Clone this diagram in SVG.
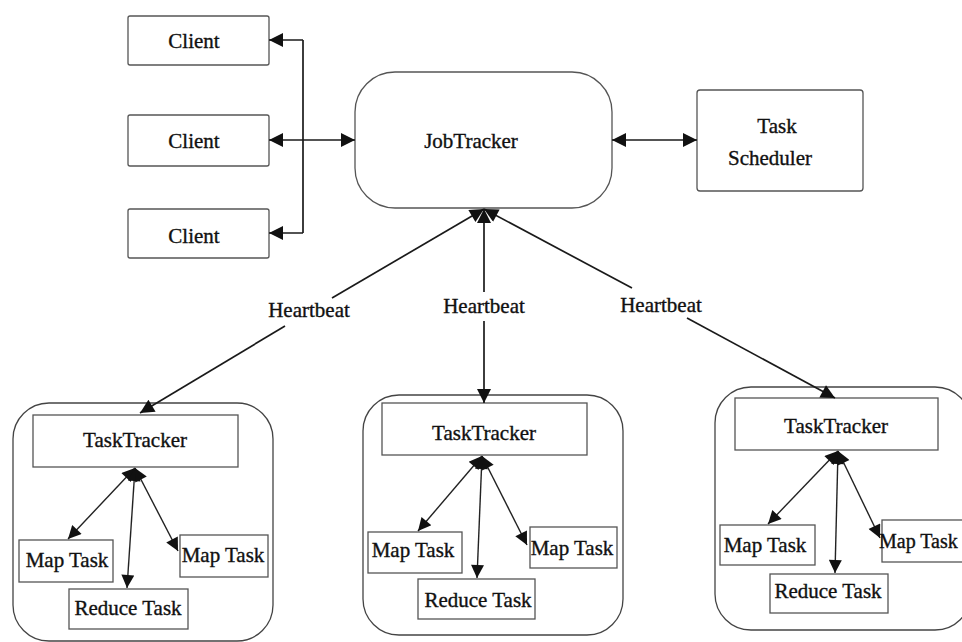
<svg xmlns="http://www.w3.org/2000/svg" width="962" height="642" viewBox="0 0 962 642">
  <style>
    .box { fill: #fff; stroke: #555; stroke-width: 1.3; }
    .cont { fill: #fff; stroke: #444; stroke-width: 1.3; }
    .lbl { font-family: "Liberation Serif", "Times New Roman", serif; font-size: 21px; fill: #111; stroke: #111; stroke-width: 0.35; text-anchor: middle; }
    .wire { fill: none; stroke: #1a1a1a; stroke-width: 1.7; }
    .thin { fill: none; stroke: #222; stroke-width: 1.4; }
  </style>
  <defs>
    <marker id="ah" viewBox="0 0 10 10" refX="10" refY="5" markerUnits="userSpaceOnUse" markerWidth="17" markerHeight="14" orient="auto-start-reverse">
      <path d="M0,0 L10,5 L0,10 z" fill="#111"/>
    </marker>
    <marker id="ahs" viewBox="0 0 10 10" refX="10" refY="5" markerUnits="userSpaceOnUse" markerWidth="16" markerHeight="13" orient="auto-start-reverse">
      <path d="M0,0 L10,5 L0,10 z" fill="#111"/>
    </marker>
  </defs>

  <rect width="962" height="642" fill="#fff"/>

  <!-- top row -->
  <g id="client1"><rect class="box" x="128" y="16" width="141" height="49" rx="2"/><text class="lbl" x="194" y="48">Client</text></g>
  <g id="client2"><rect class="box" x="128" y="115" width="141" height="51" rx="2"/><text class="lbl" x="194" y="148">Client</text></g>
  <g id="client3"><rect class="box" x="128" y="209" width="141" height="49" rx="2"/><text class="lbl" x="194" y="243">Client</text></g>
  <g id="jobtracker"><rect class="box" x="355" y="72" width="257" height="136" rx="40"/><text class="lbl" x="471" y="148">JobTracker</text></g>
  <g id="scheduler"><rect class="box" x="697" y="90" width="166" height="101" rx="3"/><text class="lbl" x="777" y="133">Task</text><text class="lbl" x="770" y="165">Scheduler</text></g>

  <!-- worker 1 -->
  <g id="worker1">
    <rect class="cont" x="13" y="403" width="260" height="238" rx="36"/>
    <rect class="box" x="33" y="415" width="205" height="52"/><text class="lbl" x="135" y="447">TaskTracker</text>
    <rect class="box" x="19" y="540" width="94" height="42"/><text class="lbl" x="67" y="567">Map Task</text>
    <rect class="box" x="180" y="535" width="88" height="42"/><text class="lbl" x="223" y="562">Map Task</text>
    <rect class="box" x="69" y="589" width="119" height="40"/><text class="lbl" x="128" y="615">Reduce Task</text>
  </g>

  <!-- worker 2 -->
  <g id="worker2">
    <rect class="cont" x="363" y="395" width="260" height="240" rx="36"/>
    <rect class="box" x="382" y="403" width="205" height="52"/><text class="lbl" x="484" y="440">TaskTracker</text>
    <rect class="box" x="368" y="532" width="94" height="41"/><text class="lbl" x="413" y="557">Map Task</text>
    <rect class="box" x="530" y="527" width="87" height="41"/><text class="lbl" x="572" y="555">Map Task</text>
    <rect class="box" x="418" y="579" width="117" height="40"/><text class="lbl" x="478" y="607">Reduce Task</text>
  </g>

  <!-- worker 3 (runs off the right edge) -->
  <g id="worker3">
    <rect class="cont" x="715" y="387" width="256" height="243" rx="36"/>
    <rect class="box" x="735" y="398" width="203" height="52"/><text class="lbl" x="836" y="433">TaskTracker</text>
    <rect class="box" x="720" y="525" width="95" height="40"/><text class="lbl" x="765" y="552">Map Task</text>
    <rect class="box" x="882" y="520" width="90" height="42"/><text class="lbl" x="879" y="548" style="text-anchor:start;font-size:20px">Map Task</text>
    <rect class="box" x="770" y="574" width="118" height="39"/><text class="lbl" x="828" y="598">Reduce Task</text>
  </g>

  <!-- connectors -->
  <g id="connectors">
    <path class="wire" d="M303,40 L303,233"/>
    <path class="wire" d="M303,40 L269,40" marker-end="url(#ah)"/>
    <path class="wire" d="M303,233 L269,233" marker-end="url(#ah)"/>
    <path class="wire" d="M269,140 L355,140" marker-start="url(#ah)" marker-end="url(#ah)"/>
    <path class="wire" d="M612,140 L697,140" marker-start="url(#ah)" marker-end="url(#ah)"/>

    <!-- heartbeat links, broken around their labels -->
    <path class="wire" d="M484,209 L332,298" marker-start="url(#ah)"/>
    <path class="wire" d="M285,326 L140,413" marker-end="url(#ah)"/>
    <path class="wire" d="M484,209 L484,292" marker-start="url(#ah)"/>
    <path class="wire" d="M484,321 L484,403" marker-end="url(#ah)"/>
    <path class="wire" d="M484,209 L632,288" marker-start="url(#ah)"/>
    <path class="wire" d="M687,318 L835,398" marker-end="url(#ah)"/>

    <!-- task links -->
    <path class="thin" d="M135,468 L68,539" marker-start="url(#ahs)" marker-end="url(#ahs)"/>
    <path class="thin" d="M135,468 L127,588" marker-start="url(#ahs)" marker-end="url(#ahs)"/>
    <path class="thin" d="M135,468 L178,551" marker-start="url(#ahs)" marker-end="url(#ahs)"/>

    <path class="thin" d="M482,456 L418,531" marker-start="url(#ahs)" marker-end="url(#ahs)"/>
    <path class="thin" d="M482,456 L477,578" marker-start="url(#ahs)" marker-end="url(#ahs)"/>
    <path class="thin" d="M482,456 L527,545" marker-start="url(#ahs)" marker-end="url(#ahs)"/>

    <path class="thin" d="M838,451 L768,524" marker-start="url(#ahs)" marker-end="url(#ahs)"/>
    <path class="thin" d="M838,451 L835,573" marker-start="url(#ahs)" marker-end="url(#ahs)"/>
    <path class="thin" d="M838,451 L880,538" marker-start="url(#ahs)" marker-end="url(#ahs)"/>
  </g>

  <!-- heartbeat labels -->
  <g id="labels">
    <text class="lbl" x="309" y="317">Heartbeat</text>
    <text class="lbl" x="484" y="313">Heartbeat</text>
    <text class="lbl" x="661" y="312">Heartbeat</text>
  </g>
</svg>
